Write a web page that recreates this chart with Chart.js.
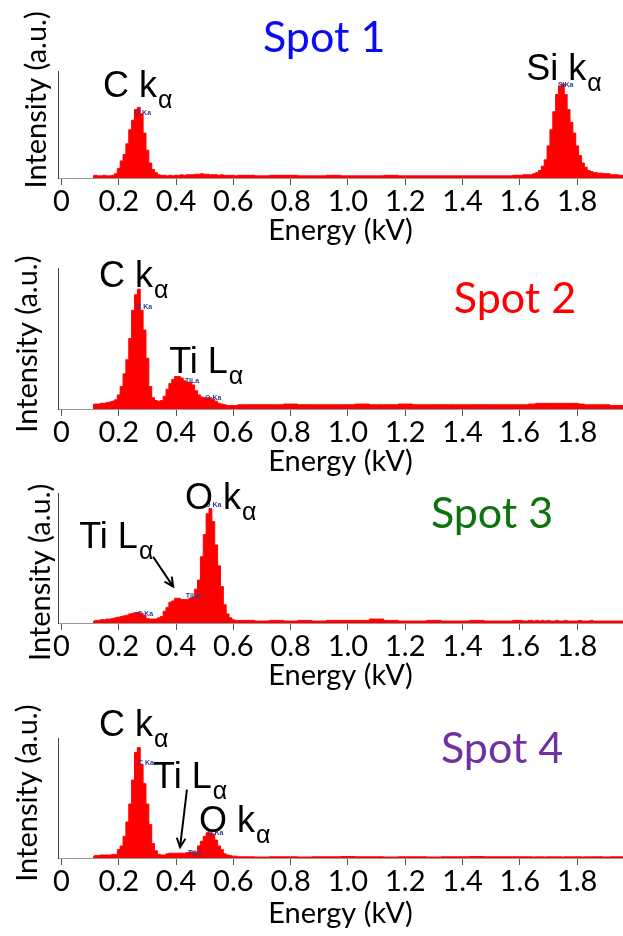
<!DOCTYPE html>
<html>
<head>
<meta charset="utf-8">
<script src="https://cdn.jsdelivr.net/npm/chart.js@4.4.1/dist/chart.umd.min.js"></script>
<style>
  html, body { margin: 0; padding: 0; background: #fff; }
  body { width: 623px; height: 936px; position: relative; overflow: hidden; }
  canvas { position: absolute; left: 0; }
</style>
</head>
<body>
<canvas id="c1"></canvas>
<canvas id="c2"></canvas>
<canvas id="c3"></canvas>
<canvas id="c4"></canvas>
<script>
// energy channels (kV), shared by all four spectra
const energy = [
  0.11, 0.12, 0.13, 0.14, 0.15, 0.16, 0.17, 0.18, 0.19,
  0.20, 0.21, 0.22, 0.23, 0.24, 0.25, 0.26, 0.27, 0.28, 0.29,
  0.30, 0.31, 0.32, 0.33, 0.34, 0.35, 0.36, 0.37, 0.38, 0.39,
  0.40, 0.41, 0.42, 0.43, 0.44, 0.45, 0.46, 0.47, 0.48, 0.49,
  0.50, 0.51, 0.52, 0.53, 0.54, 0.55, 0.56, 0.57, 0.58, 0.59,
  0.60, 0.61, 0.62,
  0.65, 0.70, 0.75, 0.80, 0.85, 0.90, 0.95, 1.00, 1.05, 1.10,
  1.15, 1.20, 1.25, 1.30, 1.35, 1.40, 1.45, 1.50, 1.55, 1.60,
  1.62, 1.64, 1.65, 1.66, 1.67, 1.68, 1.69, 1.70, 1.71, 1.72,
  1.73, 1.74, 1.75, 1.76, 1.77, 1.78, 1.79, 1.80, 1.81, 1.82,
  1.83, 1.84, 1.85, 1.86, 1.88, 1.90, 1.93, 1.96
];

// intensities (a.u., % of axis height)
const spot1 = [
  2, 2.5, 2, 2, 2.5, 2, 2, 2.5, 4,
  9, 16, 22, 32, 45, 54, 64, 66, 60, 42,
  26, 14, 8, 5, 3, 2.5, 2.5, 2, 2.5, 2,
  2.5, 2.5, 3, 2.5, 3, 3, 3, 3.5, 3.5, 4,
  3.5, 3.5, 3, 3, 3, 2.5, 3, 2.5, 2.5, 2.5,
  2.5, 2, 2.5,
  2.5, 2, 2.5, 2.5, 2, 2, 2.5, 2, 2, 2,
  2.5, 2, 2, 2, 2, 2, 2, 2, 2, 2.5,
  3, 3, 4, 5, 7, 11, 17, 30, 45, 62,
  78, 86, 88, 78, 64, 52, 42, 30, 21, 14,
  10, 7, 6, 5, 4.5, 4, 3, 2.5
];
const spot2 = [
  3, 3.5, 3.5, 4, 4, 4.5, 5, 5.5, 6.5,
  10, 16, 25, 35, 50, 70, 81, 85, 70, 56,
  36, 16, 8, 6, 5.5, 6, 9, 14, 18, 21,
  23, 23, 22, 20, 19, 19, 17, 13, 10, 8.5,
  8, 8, 8, 7, 5.5, 4, 3.5, 3, 2.5, 2.5,
  2.5, 2.5, 3,
  3, 3, 3, 3.5, 3, 3, 3, 3, 3.5, 3,
  3, 3.5, 3, 3, 3, 3, 3, 3, 3, 3,
  3, 3.5, 3.5, 4, 4, 4, 4, 4, 4, 4,
  4, 4, 4, 4, 4, 4, 4, 4, 3.5, 3.5,
  3, 3, 3, 3, 3, 3, 2.5, 2.5
];
const spot3 = [
  1, 2, 2, 2.5, 2.5, 3, 3, 3.5, 4,
  4.5, 5, 5.5, 6, 7, 7.5, 8, 8, 7.5, 6,
  3.5, 3, 3, 3, 4, 5, 9, 12, 16, 17,
  19, 19, 18, 18, 18, 19, 20, 26, 33, 51,
  68, 84, 88, 78, 60, 44, 28, 14, 7, 4,
  2.5, 2, 2,
  2, 1.5, 2, 1.5, 2, 1.5, 2, 2, 2, 3,
  2, 1.5, 1.5, 2, 1.5, 1.5, 2, 1.5, 1.5, 2,
  1.5, 2, 1.5, 2, 1.5, 2, 1.5, 2, 1.5, 1.5,
  2, 1.5, 1.5, 2, 1.5, 1.5, 1.5, 1.5, 2, 1.5,
  1.5, 1.5, 2, 1.5, 1.5, 1.5, 1.5, 1.5
];
const spot4 = [
  1, 2, 2, 2.5, 2.5, 2.5, 2.5, 3, 3,
  7, 10, 18, 30, 45, 65, 88, 92, 78, 62,
  45, 28, 12, 6, 3, 2.5, 2.5, 3.5, 4, 4,
  4, 4, 4, 4, 4.5, 5, 5, 5, 10, 14,
  18, 21, 21, 20, 15, 10, 7, 3.5, 2.5, 2,
  1.5, 1.5, 1,
  1, 0.8, 1, 1, 0.8, 1, 1, 1.2, 1, 1,
  0.8, 1, 1, 0.8, 1, 1, 1.2, 1, 1, 1,
  1, 1, 0.8, 1, 1, 1, 0.8, 1, 1, 1,
  1, 1, 0.8, 1, 1, 1, 1, 1, 1, 0.8,
  1, 1, 1, 1, 1, 0.8, 1, 1
];

const tickValues = [0, 0.2, 0.4, 0.6, 0.8, 1.0, 1.2, 1.4, 1.6, 1.8];
const tickLabels = ['0', '0.2', '0.4', '0.6', '0.8', '1.0', '1.2', '1.4', '1.6', '1.8'];

// labels drawn on top of each spectrum, placed in data units (kV, %)
const textPlugin = {
  id: 'spotText',
  afterDraw(chart, args, opts) {
    const { ctx, scales: { x, y } } = chart;
    const px = v => x.getPixelForValue(v);
    const py = v => y.getPixelForValue(v);
    ctx.save();

    // y axis title, rotated
    ctx.fillStyle = '#000';
    ctx.font = '29px Lato';
    ctx.textAlign = 'center';
    ctx.textBaseline = 'middle';
    ctx.translate(px(opts.yTitle.x), py(opts.yTitle.y));
    ctx.rotate(-Math.PI / 2);
    ctx.fillText('Intensity (a.u.)', 0, 0);
    ctx.setTransform(1, 0, 0, 1, 0, 0);

    // spot title
    ctx.textBaseline = 'alphabetic';
    ctx.font = '43px Lato';
    ctx.fillStyle = opts.title.color;
    ctx.fillText(opts.title.text, px(opts.title.x), py(opts.title.y));

    // tiny peak tags from the instrument
    ctx.font = 'bold 7px "Liberation Sans"';
    ctx.fillStyle = '#2a3f8f';
    ctx.textBaseline = 'middle';
    opts.tags.forEach(t => ctx.fillText(t.text, px(t.x), py(t.y)));

    // peak names with alpha subscript
    ctx.fillStyle = '#000';
    ctx.textAlign = 'left';
    ctx.textBaseline = 'alphabetic';
    opts.peaks.forEach(p => {
      ctx.font = '36px "Liberation Sans"';
      const w = ctx.measureText(p.main).width;
      const x0 = px(p.x), y0 = py(p.y);
      ctx.fillText(p.main, x0, y0);
      ctx.font = '25px "Liberation Sans"';
      ctx.fillText(p.sub, x0 + w + 1, y0 + 11);
    });

    // arrows
    ctx.strokeStyle = '#000';
    ctx.lineWidth = 2;
    opts.arrows.forEach(a => {
      const x1 = px(a.from[0]), y1 = py(a.from[1]);
      const x2 = px(a.to[0]), y2 = py(a.to[1]);
      const ang = Math.atan2(y2 - y1, x2 - x1);
      ctx.beginPath();
      ctx.moveTo(x1, y1);
      ctx.lineTo(x2, y2);
      ctx.moveTo(x2 - 10 * Math.cos(ang - 0.45), y2 - 10 * Math.sin(ang - 0.45));
      ctx.lineTo(x2, y2);
      ctx.lineTo(x2 - 10 * Math.cos(ang + 0.45), y2 - 10 * Math.sin(ang + 0.45));
      ctx.stroke();
    });
    ctx.restore();
  }
};

const panels = [
  {
    id: 'c1', data: spot1, top: 0, padTop: 71, plot: 107, titlePad: 3,
    text: {
      yTitle: { x: -0.085, y: 73 },
      title: { text: 'Spot 1', color: '#0a0af5', x: 0.917, y: 118 },
      peaks: [
        { main: 'C k', sub: 'α', x: 0.145, y: 76 },
        { main: 'Si k', sub: 'α', x: 1.622, y: 92 }
      ],
      tags: [{ text: 'C Ka', x: 0.285, y: 61 }, { text: 'SiKa', x: 1.76, y: 87 }],
      arrows: []
    }
  },
  {
    id: 'c2', data: spot2, top: 228, padTop: 40, plot: 141, titlePad: 3,
    text: {
      yTitle: { x: -0.117, y: 46 },
      title: { text: 'Spot 2', color: '#ff0000', x: 1.583, y: 68 },
      peaks: [
        { main: 'C k', sub: 'α', x: 0.131, y: 86.5 },
        { main: 'Ti L', sub: 'α', x: 0.376, y: 25.5 }
      ],
      tags: [
        { text: 'C Ka', x: 0.289, y: 72 },
        { text: 'TiLa', x: 0.456, y: 20 },
        { text: 'O Ka', x: 0.53, y: 8 }
      ],
      arrows: []
    }
  },
  {
    id: 'c3', data: spot3, top: 463, padTop: 30, plot: 130, titlePad: 3,
    text: {
      yTitle: { x: -0.071, y: 39 },
      title: { text: 'Spot 3', color: '#0b730b', x: 1.503, y: 73 },
      peaks: [
        { main: 'O k', sub: 'α', x: 0.431, y: 88 },
        { main: 'Ti L', sub: 'α', x: 0.062, y: 58 }
      ],
      tags: [
        { text: 'C Ka', x: 0.292, y: 7 },
        { text: 'TiLa', x: 0.459, y: 21 },
        { text: 'O Ka', x: 0.53, y: 91 }
      ],
      arrows: [{ from: [0.32, 51], to: [0.39, 28] }]
    }
  },
  {
    id: 'c4', data: spot4, top: 693, padTop: 45, plot: 120, titlePad: 0,
    text: {
      yTitle: { x: -0.117, y: 54 },
      title: { text: 'Spot 4', color: '#7030a0', x: 1.538, y: 79 },
      peaks: [
        { main: 'C k', sub: 'α', x: 0.131, y: 102 },
        { main: 'Ti L', sub: 'α', x: 0.32, y: 58 },
        { main: 'O k', sub: 'α', x: 0.48, y: 22 }
      ],
      tags: [
        { text: 'C Ka', x: 0.295, y: 79 },
        { text: 'TiLa', x: 0.466, y: 4 },
        { text: 'O Ka', x: 0.537, y: 21 }
      ],
      arrows: [{ from: [0.438, 57], to: [0.414, 9] }]
    }
  }
];

const AXIS_H = 70;

panels.forEach(p => {
  const canvas = document.getElementById(p.id);
  canvas.width = 623;
  canvas.height = p.padTop + p.plot + AXIS_H;
  canvas.style.top = p.top + 'px';
  new Chart(canvas, {
    type: 'line',
    data: {
      datasets: [{
        data: energy.map((e, i) => ({ x: e, y: p.data[i] })),
        stepped: 'middle',
        fill: 'origin',
        backgroundColor: '#ff0000',
        borderColor: '#ff0000',
        borderWidth: 1,
        pointRadius: 0
      }]
    },
    options: {
      responsive: false,
      animation: false,
      layout: { padding: { top: p.padTop, left: 58, right: 0, bottom: 0 } },
      plugins: {
        legend: { display: false },
        tooltip: { enabled: false },
        spotText: p.text
      },
      scales: {
        x: {
          type: 'linear',
          min: -0.012,
          max: 1.96,
          afterBuildTicks: s => { s.ticks = tickValues.map(v => ({ value: v })); },
          afterFit: s => { s.height = AXIS_H; },
          ticks: {
            autoSkip: false,
            maxRotation: 0,
            padding: 2,
            color: '#000',
            font: { family: 'Lato', size: 29, lineHeight: 1 },
            callback: (v, i) => tickLabels[i]
          },
          grid: { drawOnChartArea: false, drawTicks: true, tickLength: 7, tickColor: '#555', color: '#555' },
          border: { display: true, color: '#999', width: 1 },
          title: {
            display: true,
            text: 'Energy (kV)',
            color: '#000',
            font: { family: 'Lato', size: 29, lineHeight: 1 },
            padding: { top: 0, bottom: p.titlePad }
          }
        },
        y: {
          min: 0,
          max: 100,
          ticks: { display: false },
          grid: { display: false, drawTicks: false },
          border: { display: true, color: '#444', width: 1 }
        }
      }
    },
    plugins: [textPlugin]
  });
});
</script>
</body>
</html>
